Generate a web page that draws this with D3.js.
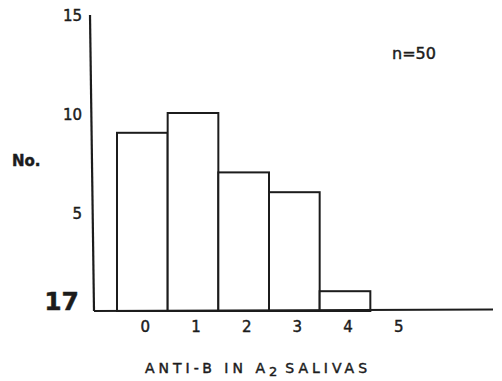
<!DOCTYPE html>
<html>
<head>
<meta charset="utf-8">
<script src="https://cdn.jsdelivr.net/npm/d3@7"></script>
<style>
  body { margin: 0; background: #fff; }
  svg text { font-family: "DejaVu Sans", sans-serif; fill: #1c1c1c; stroke: #1c1c1c; stroke-width: 0.45px; }
</style>
</head>
<body>
<div id="chart"></div>
<script>
// DATA
const categories = ["0", "1", "2", "3", "4", "5"];
const counts = [9, 10, 7, 6, 1, 0];
const yTicks = [5, 10, 15];

const width = 502;
const height = 381;
const ink = "#1c1c1c";

const svg = d3
  .select("#chart")
  .append("svg")
  .attr("width", width)
  .attr("height", height);

const x = d3.scaleBand().domain(categories).range([117, 421]).padding(0);
const y = d3.scaleLinear().domain([0, 15]).range([311, 14]);

// BARS
svg
  .selectAll("rect.bar")
  .data(counts.map((c, i) => ({ cat: categories[i], c })).filter((d) => d.c > 0))
  .join("rect")
  .attr("class", "bar")
  .attr("x", (d) => x(d.cat))
  .attr("y", (d) => y(d.c))
  .attr("width", x.bandwidth())
  .attr("height", (d) => y(0) - y(d.c))
  .attr("fill", "#fff")
  .attr("stroke", ink)
  .attr("stroke-width", 2);

// AXIS LINES
svg
  .append("line")
  .attr("x1", 90)
  .attr("x2", 94)
  .attr("y1", y(15) + 1)
  .attr("y2", y(0))
  .attr("stroke", ink)
  .attr("stroke-width", 2.2);

svg
  .append("line")
  .attr("x1", 94)
  .attr("x2", 493)
  .attr("y1", y(0))
  .attr("y2", y(0) - 1.5)
  .attr("stroke", ink)
  .attr("stroke-width", 2);

// Y AXIS
const yAxis = svg
  .append("g")
  .attr("transform", "translate(82,2)")
  .call(d3.axisLeft(y).tickValues(yTicks).tickSize(0).tickPadding(0));
yAxis.select(".domain").remove();
yAxis
  .selectAll("text")
  .style("font-size", "15px")
  .style("font-family", "DejaVu Sans, sans-serif")
  .attr("fill", ink);

// X AXIS
const xAxis = svg
  .append("g")
  .attr("transform", `translate(3,${y(0) + 10})`)
  .call(d3.axisBottom(x).tickSize(0).tickPadding(0));
xAxis.select(".domain").remove();
xAxis
  .selectAll("text")
  .style("font-size", "15px")
  .style("font-family", "DejaVu Sans, sans-serif")
  .attr("fill", ink);

// page number at baseline
svg
  .append("text")
  .attr("x", 79)
  .attr("y", 310)
  .attr("text-anchor", "end")
  .style("font-size", "25px")
  .style("font-weight", "bold")
  .text("17");

// Y label
svg
  .append("text")
  .attr("x", 12)
  .attr("y", 166)
  .style("font-size", "15px")
  .style("font-weight", "bold")
  .text("No.");

// n label
svg
  .append("text")
  .attr("x", 392)
  .attr("y", 59)
  .style("font-size", "16px")
  .text("n=50");

// X title
const title = svg
  .append("text")
  .attr("x", 145)
  .attr("y", 373)
  .style("font-size", "14px")
  .style("letter-spacing", "4px");
title.append("tspan").text("ANTI-B IN A");
title.append("tspan").attr("dy", 3).style("font-size", "13px").text("2");
title.append("tspan").attr("dy", -3).attr("dx", 4).text("SALIVAS");
</script>
</body>
</html>
